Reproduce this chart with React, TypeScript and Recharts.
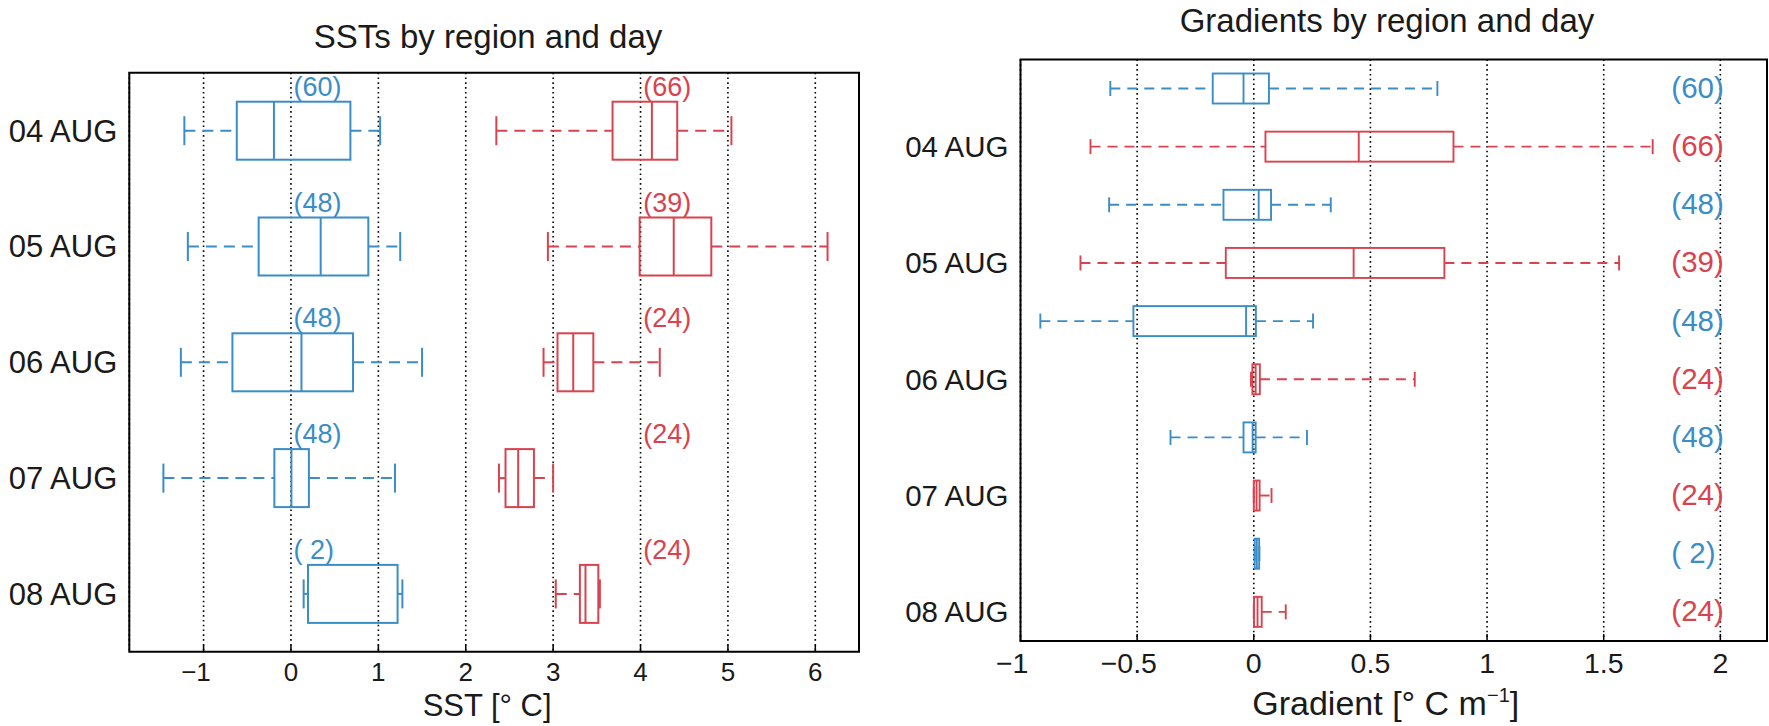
import React from "react";
import { ComposedChart, Bar, XAxis, YAxis, CartesianGrid, ReferenceArea } from "recharts";

const BLUE = "#3b8dc7";
const RED = "#d9434f";
const INK = "#1a1a1a";
const FONT = "'Liberation Sans', Arial, Helvetica, sans-serif";

// ---------- SST panel ----------
const days = ["04 AUG", "05 AUG", "06 AUG", "07 AUG", "08 AUG"];
const sstTicks = [-1, 0, 1, 2, 3, 4, 5, 6];
const sstDomain = [-1.85, 6.5];
const sstBlueLow = [-1.22, -1.18, -1.26, -1.46, 0.145];
const sstBlueQ1 = [-0.62, -0.37, -0.67, -0.19, 0.195];
const sstBlueMed: (number | null)[] = [-0.195, 0.34, 0.12, 0.005, null];
const sstBlueQ3 = [0.68, 0.885, 0.71, 0.205, 1.22];
const sstBlueHigh = [1.02, 1.25, 1.5, 1.19, 1.275];
const sstRedLow = [2.35, 2.94, 2.89, 2.38, 3.03];
const sstRedQ1 = [3.68, 3.99, 3.05, 2.455, 3.306];
const sstRedMed = [4.13, 4.38, 3.23, 2.6, 3.37];
const sstRedQ3 = [4.42, 4.81, 3.46, 2.78, 3.517];
const sstRedHigh = [5.04, 6.14, 4.22, 3.0, 3.535];
const sstBlueN = ["(60)", "(48)", "(48)", "(48)", "( 2)"];
const sstRedN = ["(66)", "(39)", "(24)", "(24)", "(24)"];

// ---------- Gradient panel ----------
const gradTicks = [-1, -0.5, 0, 0.5, 1, 1.5, 2];
const gradDomain = [-1, 2.2];
const gradBlueLow = [-0.615, -0.62, -0.915, -0.357, 0.004];
const gradBlueQ1 = [-0.176, -0.13, -0.516, -0.044, 0.004];
const gradBlueMed = [-0.044, 0.021, -0.033, -0.005, 0.013];
const gradBlueQ3 = [0.065, 0.074, 0.009, 0.008, 0.023];
const gradBlueHigh = [0.787, 0.33, 0.254, 0.228, 0.024];
const gradRedLow = [-0.7, -0.743, -0.012, 0.0, 0.0];
const gradRedQ1 = [0.05, -0.12, -0.006, 0.0, 0.001];
const gradRedMed = [0.45, 0.428, 0.008, 0.012, 0.016];
const gradRedQ3 = [0.856, 0.817, 0.026, 0.025, 0.034];
const gradRedHigh = [1.71, 1.566, 0.69, 0.076, 0.137];
const gradBlueN = ["(60)", "(48)", "(48)", "(48)", "( 2)"];
const gradRedN = ["(66)", "(39)", "(24)", "(24)", "(24)"];

// label anchors (data-space x where the count text starts)
const SST_BLUE_LABEL_AT = 0.03;
const SST_RED_LABEL_AT = 4.03;
const GRAD_LABEL_AT = 1.79;

const sstData = days.map((day, i) => ({
  day,
  b: { low: sstBlueLow[i], q1: sstBlueQ1[i], med: sstBlueMed[i], q3: sstBlueQ3[i], high: sstBlueHigh[i], n: sstBlueN[i] },
  r: { low: sstRedLow[i], q1: sstRedQ1[i], med: sstRedMed[i], q3: sstRedQ3[i], high: sstRedHigh[i], n: sstRedN[i] },
}));

const gradData: any[] = [];
days.forEach((day, i) => {
  gradData.push({
    row: day + "|b", color: BLUE,
    s: { low: gradBlueLow[i], q1: gradBlueQ1[i], med: gradBlueMed[i], q3: gradBlueQ3[i], high: gradBlueHigh[i], n: gradBlueN[i] },
  });
  gradData.push({
    row: day + "|r", color: RED,
    s: { low: gradRedLow[i], q1: gradRedQ1[i], med: gradRedMed[i], q3: gradRedQ3[i], high: gradRedHigh[i], n: gradRedN[i] },
  });
});

const fmt = (v: number) => (v < 0 ? "\u2212" + Math.abs(v) : String(v));

// tick whose number part is centred on the tick, with the minus sign hanging to the left
const makeXTick = (fs: number) => (props: any) => {
  const { x, y, payload } = props;
  const v = Number(payload.value);
  const shift = v < 0 ? fs * 0.292 : 0;
  return (
    <text x={x - shift} y={y} dy="0.71em" textAnchor="middle" fontSize={fs} fill={INK} fontFamily={FONT}>
      {fmt(v)}
    </text>
  );
};

type Opts = {
  color: string;
  dash: string;
  sw: number;
  labelAt: number;
  labelSize: number;
  labelMode: "above" | "inline";
};

function renderBox(p: any, s: any, o: Opts) {
  const { x, y, width, height } = p;
  if (x == null || y == null) return <g />;
  const span = s.high - s.low;
  const px = (v: number) => (span === 0 ? x : x + ((v - s.low) / span) * width);
  const cy = y + height / 2;
  const capH = height / 4;
  const xl = px(s.low), x1 = px(s.q1), x3 = px(s.q3), xh = px(s.high);
  const common = { stroke: o.color, strokeWidth: o.sw, fill: "none" };
  const labelX = px(o.labelAt);
  const labelY = o.labelMode === "above" ? y - 6 : cy + 9.5;
  return (
    <g>
      {x1 > xl && <line x1={xl} x2={x1} y1={cy} y2={cy} {...common} strokeDasharray={o.dash} />}
      {xh > x3 && <line x1={x3} x2={xh} y1={cy} y2={cy} {...common} strokeDasharray={o.dash} />}
      <line x1={xl} x2={xl} y1={cy - capH} y2={cy + capH} {...common} />
      <line x1={xh} x2={xh} y1={cy - capH} y2={cy + capH} {...common} />
      <rect x={x1} y={y} width={Math.max(x3 - x1, 0.5)} height={height} {...common} />
      {s.med != null && <line x1={px(s.med)} x2={px(s.med)} y1={y} y2={y + height} {...common} />}
      <text x={labelX} y={labelY} fill={o.color} fontSize={o.labelSize} fontFamily={FONT} textAnchor="start">
        {s.n}
      </text>
    </g>
  );
}

const SSTPanel = () => (
  <ComposedChart
    width={880}
    height={726}
    data={sstData}
    layout="vertical"
    barGap={-58}
    margin={{ top: 72.7, right: 21, bottom: 0, left: 0 }}
  >
    <CartesianGrid horizontal={false} stroke="#000" strokeDasharray="1.6 3.2" strokeWidth={1.6} />
    <XAxis
      type="number"
      domain={sstDomain}
      ticks={sstTicks}
      axisLine={false}
      tickLine={{ stroke: "#000", strokeWidth: 1.5 }}
      tickSize={-7}
      tickMargin={18.3}
      height={74.3}
      tick={makeXTick(26)}
      label={{
        content: (lp: any) => {
          const vb = lp.viewBox || {};
          return (
            <text x={vb.x + vb.width / 2 - 7} y={vb.y + 64} textAnchor="middle" fontSize={31} fill={INK} fontFamily={FONT}>
              SST [° C]
            </text>
          );
        },
      }}
    />
    <YAxis
      type="category"
      dataKey="day"
      width={129.3}
      axisLine={false}
      tickLine={false}
      tickSize={0}
      tickMargin={12}
      tick={{ fontSize: 31, fill: INK, fontFamily: FONT }}
    />
    <Bar
      dataKey={(d: any) => [d.b.low, d.b.high]}
      barSize={58}
      isAnimationActive={false}
      shape={(p: any) =>
        renderBox(p, p.payload.b, { color: BLUE, dash: "11 7", sw: 2, labelAt: SST_BLUE_LABEL_AT, labelSize: 27, labelMode: "above" })
      }
    />
    <Bar
      dataKey={(d: any) => [d.r.low, d.r.high]}
      barSize={58}
      isAnimationActive={false}
      shape={(p: any) =>
        renderBox(p, p.payload.r, { color: RED, dash: "11 7", sw: 2, labelAt: SST_RED_LABEL_AT, labelSize: 27, labelMode: "above" })
      }
    />
    <ReferenceArea x1={sstDomain[0]} x2={sstDomain[1]} fill="none" stroke="#000" strokeWidth={2} ifOverflow="visible" />
  </ComposedChart>
);

const GradPanel = () => (
  <ComposedChart
    width={889}
    height={726}
    data={gradData}
    layout="vertical"
    margin={{ top: 59.5, right: 2, bottom: 0, left: 0 }}
  >
    <CartesianGrid horizontal={false} stroke="#000" strokeDasharray="1.6 3.2" strokeWidth={1.6} />
    <XAxis
      type="number"
      domain={gradDomain}
      ticks={gradTicks}
      axisLine={false}
      tickLine={{ stroke: "#000", strokeWidth: 1.5 }}
      tickSize={-7}
      tickMargin={19}
      height={85}
      tick={makeXTick(28.5)}
      label={{
        content: (lp: any) => {
          const vb = lp.viewBox || {};
          return (
            <text x={vb.x + vb.width / 2 - 8} y={vb.y + 74} textAnchor="middle" fontSize={34} fill={INK} fontFamily={FONT}>
              Gradient [° C m
              <tspan dy={-13} fontSize={20}>
                {"\u22121"}
              </tspan>
              <tspan dy={13}>]</tspan>
            </text>
          );
        },
      }}
    />
    <YAxis
      type="category"
      dataKey="row"
      width={140.5}
      axisLine={false}
      tickLine={false}
      tickSize={0}
      tickMargin={12}
      tickFormatter={(v: string) => (v.endsWith("|r") ? v.slice(0, -2) : "")}
      tick={{ fontSize: 29.5, fill: INK, fontFamily: FONT }}
      interval={0}
    />
    <Bar
      dataKey={(d: any) => [d.s.low, d.s.high]}
      barSize={30}
      isAnimationActive={false}
      shape={(p: any) =>
        renderBox(p, p.payload.s, { color: p.payload.color, dash: "10 7", sw: 1.9, labelAt: GRAD_LABEL_AT, labelSize: 29.5, labelMode: "inline" })
      }
    />
    <ReferenceArea x1={gradDomain[0]} x2={gradDomain[1]} fill="none" stroke="#000" strokeWidth={2} ifOverflow="visible" />
  </ComposedChart>
);

export default function App() {
  return (
    <div style={{ position: "absolute", left: 0, top: 0, width: 1769, height: 726, background: "#fff", overflow: "hidden" }}>
      <div style={{ position: "absolute", left: 0, top: 0 }}>
        <SSTPanel />
      </div>
      <div style={{ position: "absolute", left: 880, top: 0 }}>
        <GradPanel />
      </div>
      <svg width={1769} height={726} style={{ position: "absolute", left: 0, top: 0, pointerEvents: "none" }}>
        <text x={488} y={48.3} textAnchor="middle" fontSize={33} fill={INK} fontFamily={FONT}>
          SSTs by region and day
        </text>
        <text x={1387} y={31.5} textAnchor="middle" fontSize={33} fill={INK} fontFamily={FONT}>
          Gradients by region and day
        </text>
      </svg>
    </div>
  );
}
